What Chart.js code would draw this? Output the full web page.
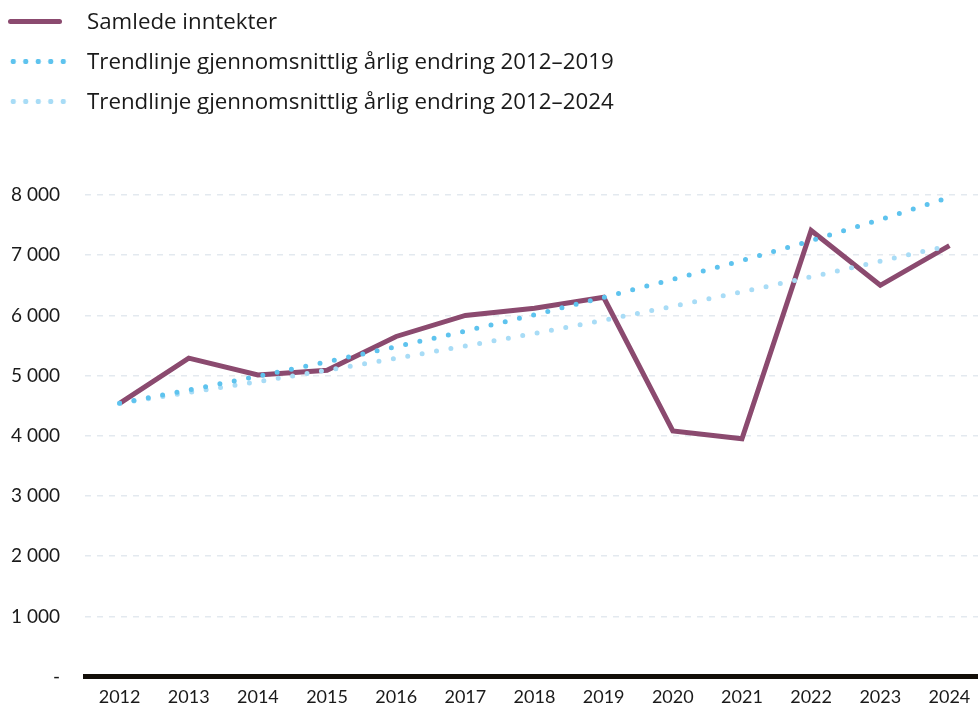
<!DOCTYPE html>
<html>
<head>
<meta charset="utf-8">
<script src="https://cdn.jsdelivr.net/npm/chart.js@4/dist/chart.umd.min.js"></script>
<style>
 html,body{margin:0;padding:0;background:#fff;overflow:hidden;width:978px;height:713px;}
 #wrap{position:relative;width:984px;height:713px;}
 #legend{position:absolute;left:0;top:0;font-family:"Open Sans",Lato,sans-serif;font-size:22.3px;color:#1a1a1a;}
 .row{position:absolute;left:0;height:26px;white-space:nowrap;}
 .row span{position:absolute;left:87px;top:0;line-height:26px;}
 .solid{position:absolute;left:8px;top:11px;width:54px;height:5px;border-radius:3px;background:#8b4a6f;}
 .dots{position:absolute;left:7px;top:10px;width:60px;height:7px;background-size:12.5px 7px;background-repeat:repeat-x;}
</style>
</head>
<body>
<div id="wrap">
 <canvas id="c" width="984" height="713"></canvas>
 <div id="legend">
  <div class="row" style="top:8px"><div class="solid"></div><span>Samlede inntekter</span></div>
  <div class="row" style="top:48px"><div class="dots" style="background-image:radial-gradient(circle,#5ec3ee 2.5px,transparent 3px)"></div><span>Trendlinje gjennomsnittlig årlig endring 2012–2019</span></div>
  <div class="row" style="top:88px"><div class="dots" style="background-image:radial-gradient(circle,#a8dcf6 2.5px,transparent 3px)"></div><span>Trendlinje gjennomsnittlig årlig endring 2012–2024</span></div>
 </div>
</div>
<script>
const years=["2012","2013","2014","2015","2016","2017","2018","2019","2020","2021","2022","2023","2024"];
const inntekter=[4540,5290,5010,5090,5650,6000,6120,6300,4080,3950,7410,6500,7160];
const trend1219=[4540,4760,4990,5230,5480,5740,6010,6300,6600,6910,7240,7590,7960];
const trend1224=[4540,4720,4900,5090,5290,5490,5700,5920,6150,6390,6640,6900,7160];
const yTicks=[0,1000,2000,3000,4000,5000,6000,7000,8000];

function fmt(v){
 if(v===0) return "-";
 return String(v).replace(/\B(?=(\d{3})+(?!\d))/g," ");
}

new Chart(document.getElementById("c"),{
 type:"line",
 data:{
  labels:years,
  datasets:[
   {label:"Trendlinje gjennomsnittlig årlig endring 2012–2019",data:trend1219,
    borderColor:"#5ec3ee",borderWidth:5,borderDash:[0,14.6],borderCapStyle:"round",pointRadius:0,tension:0},
   {label:"Trendlinje gjennomsnittlig årlig endring 2012–2024",data:trend1224,
    borderColor:"#a8dcf6",borderWidth:5,borderDash:[0,14.6],borderCapStyle:"round",pointRadius:0,tension:0},
   {label:"Samlede inntekter",data:inntekter,
    borderColor:"#8b4a6f",borderWidth:5,pointRadius:0,tension:0,borderJoinStyle:"miter"}
  ]
 },
 options:{
  responsive:false,
  animation:false,
  layout:{padding:{top:195,right:0,left:0,bottom:0}},
  plugins:{legend:{display:false},tooltip:{enabled:false}},
  scales:{
   x:{
    offset:true,
    grid:{display:false,drawTicks:false},
    border:{display:true,color:"#120e08",width:5},
    ticks:{color:"#1a1a1a",font:{family:"Lato",size:18},padding:10,maxRotation:0},
    afterFit(s){s.height=31;}
   },
   y:{
    min:0,max:8000,
    afterBuildTicks(s){s.ticks=yTicks.map(v=>({value:v}));},
    grid:{color:"#e3e9ef",lineWidth:1.5,drawTicks:false},
    border:{display:false,dash:[6,6]},
    ticks:{color:"#1a1a1a",font:{family:"Lato",size:19},padding:25,callback:v=>fmt(v)},
    afterFit(s){s.width=85;}
   }
  }
 }
});
</script>
</body>
</html>
